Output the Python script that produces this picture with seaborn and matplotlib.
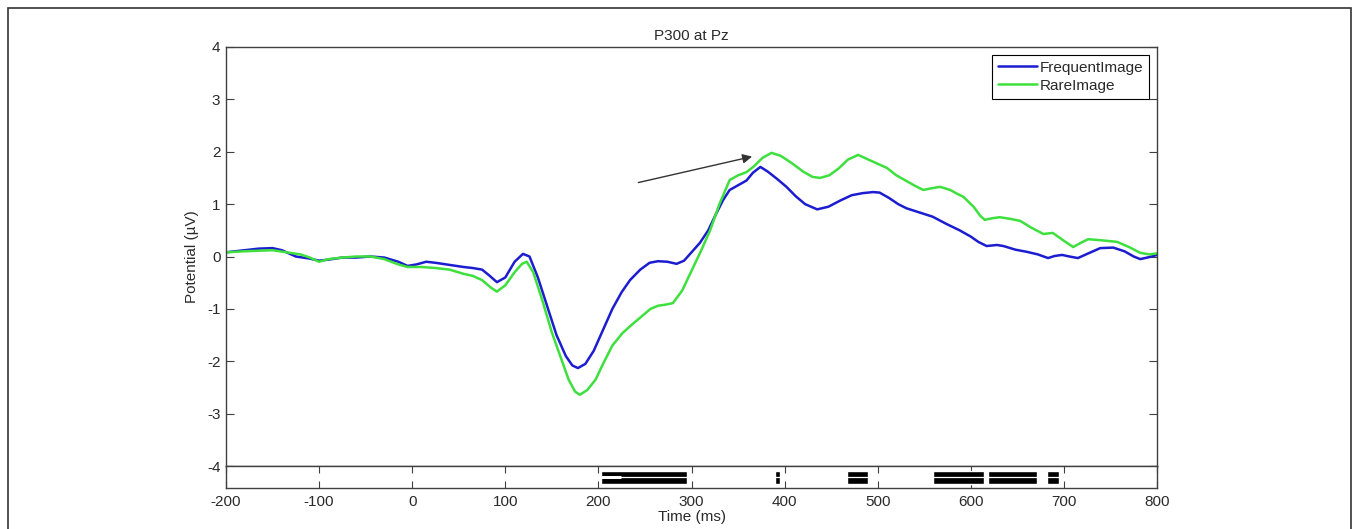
import numpy as np
import pandas as pd
import matplotlib
matplotlib.use("Agg")
import matplotlib.pyplot as plt
import seaborn as sns

################################################
# Data
################################################
freq_time = [-200, -180, -165, -150, -140, -125, -110, -100, -90, -75, -60, -45, -30, -15, -5,
             5, 15, 25, 40, 55, 65, 75, 82, 91, 100, 110, 119, 126, 135, 145, 155, 165, 172,
             178, 186, 195, 205, 215, 225, 234, 245, 255, 264, 274, 284, 292, 300, 309, 318,
             326, 334, 341, 350, 359, 366, 374, 382, 392, 402, 412, 422, 435, 447, 460, 472,
             484, 495, 502, 512, 522, 531, 545, 559, 574, 588, 600, 608, 617, 628, 635, 648,
             660, 672, 683, 690, 698, 706, 715, 725, 739, 753, 765, 775, 782, 792, 800]
freq_uv = [0.08, 0.12, 0.15, 0.16, 0.12, 0.0, -0.04, -0.08, -0.06, -0.02, -0.02, 0.0, -0.02, -0.1, -0.18,
           -0.15, -0.1, -0.12, -0.16, -0.2, -0.22, -0.25, -0.35, -0.49, -0.4, -0.1, 0.05, 0.0, -0.4, -0.95, -1.5, -1.9, -2.08,
           -2.13, -2.05, -1.8, -1.4, -1.0, -0.68, -0.45, -0.25, -0.12, -0.09, -0.1, -0.14, -0.08, 0.08, 0.26, 0.5,
           0.8, 1.08, 1.27, 1.36, 1.45, 1.6, 1.71, 1.62, 1.48, 1.33, 1.15, 1.0, 0.9, 0.95, 1.07, 1.17,
           1.21, 1.23, 1.22, 1.12, 1.0, 0.92, 0.84, 0.76, 0.62, 0.5, 0.38, 0.28, 0.2, 0.22, 0.2, 0.13,
           0.09, 0.04, -0.03, 0.01, 0.03, 0.0, -0.03, 0.05, 0.16, 0.17, 0.1, 0.0, -0.05, -0.01, 0.03]

rare_time = [-200, -180, -165, -150, -135, -120, -110, -100, -90, -75, -60, -45, -30, -15, -5,
             10, 25, 40, 55, 65, 75, 85, 91, 100, 110, 118, 123, 130, 140, 150, 160, 168, 175,
             180, 188, 197, 205, 215, 226, 236, 246, 256, 264, 272, 280, 290, 302, 310, 320,
             330, 341, 350, 359, 367, 376, 386, 396, 408, 420, 430, 438, 448, 458, 468, 479,
             490, 500, 510, 520, 530, 540, 549, 557, 567, 578, 585, 592, 603, 610, 615, 623,
             631, 642, 653, 665, 678, 688, 700, 710, 718, 726, 740, 757, 770, 782, 792, 800]
rare_uv = [0.08, 0.1, 0.11, 0.12, 0.08, 0.04, -0.02, -0.1, -0.05, -0.02, 0.0, 0.0, -0.05, -0.15, -0.2,
           -0.2, -0.22, -0.25, -0.33, -0.37, -0.45, -0.6, -0.67, -0.55, -0.3, -0.14, -0.1, -0.3, -0.85, -1.45, -1.95, -2.35, -2.58,
           -2.64, -2.55, -2.35, -2.05, -1.7, -1.46, -1.3, -1.15, -1.0, -0.94, -0.92, -0.89, -0.65, -0.2, 0.1, 0.5,
           1.0, 1.46, 1.55, 1.61, 1.72, 1.88, 1.98, 1.92, 1.78, 1.62, 1.52, 1.5, 1.55, 1.68, 1.85, 1.94,
           1.85, 1.77, 1.69, 1.55, 1.45, 1.35, 1.27, 1.3, 1.33, 1.27, 1.2, 1.14, 0.95, 0.78, 0.7, 0.73,
           0.75, 0.72, 0.68, 0.55, 0.43, 0.45, 0.3, 0.18, 0.26, 0.33, 0.31, 0.28, 0.18, 0.07, 0.04, 0.06]

conditions = ["FrequentImage", "RareImage"]

# significant time windows (ms)
sig_start = [203, 390, 467, 559, 618, 682]
sig_end = [295, 395, 490, 614, 671, 695]

x_ticks = [-200, -100, 0, 100, 200, 300, 400, 500, 600, 700, 800]
y_ticks = [-4, -3, -2, -1, 0, 1, 2, 3, 4]

################################################
# Style
################################################
sns.set_style("white")
plt.rcParams['font.family'] = ['Liberation Sans', 'DejaVu Sans']
plt.rcParams['font.size'] = 11
TEXT_COLOR = '#2a2a2a'
AXIS_COLOR = '#404040'

df = pd.concat([
    pd.DataFrame({'time': freq_time, 'uv': freq_uv, 'cond': conditions[0]}),
    pd.DataFrame({'time': rare_time, 'uv': rare_uv, 'cond': conditions[1]}),
])

fig = plt.figure(figsize=(13.53, 5.29), dpi=100)
ax = fig.add_axes([226/1353, 1 - 466/529, 931/1353, 419/529])
strip = fig.add_axes([226/1353, 1 - 488/529, 931/1353, 22/529], sharex=ax)

sns.lineplot(data=df, x='time', y='uv', hue='cond', hue_order=conditions,
             palette=['#1c1cd0', '#3de03d'], linewidth=1.8, ax=ax, sort=False)

ax.set_xlim(-200, 800)
ax.set_ylim(-4, 4)
ax.set_yticks(y_ticks)
ax.set_yticklabels([str(v) for v in y_ticks])
ax.tick_params(axis='x', bottom=False, labelbottom=False)
ax.tick_params(axis='y', direction='in', left=True, right=True, length=6,
               width=0.8, color=AXIS_COLOR, labelcolor=TEXT_COLOR, pad=4)
ax.set_xlabel('')
ax.set_ylabel('Potential (µV)', color=TEXT_COLOR, labelpad=6)
ax.set_title('P300 at Pz', color=TEXT_COLOR, pad=5, fontsize=11)
for s in ax.spines.values():
    s.set_color(AXIS_COLOR)
    s.set_linewidth(1)

leg = ax.legend(loc='upper right', frameon=True, fancybox=False, framealpha=1,
                edgecolor='black', handlelength=2.6, handletextpad=0.15,
                borderpad=0.4, labelspacing=0.25, borderaxespad=0.5)
leg.get_frame().set_linewidth(0.8)
for t in leg.get_texts():
    t.set_color(TEXT_COLOR)

ax.annotate('', xy=(368, 1.92), xytext=(240, 1.40),
            arrowprops=dict(arrowstyle='-|>', color='#333333', lw=1,
                            mutation_scale=14))

# significance strip
widths = [e - s for s, e in zip(sig_start, sig_end)]
strip.barh([0.48] * len(sig_start), widths, left=sig_start, height=0.56,
           color='black')
strip.hlines([0.48] * len(sig_start), sig_start, sig_end, color='white', lw=0.9)
strip.hlines(0.48, sig_start[0], sig_start[0] + 21, color='white', lw=2.2)
strip.set_ylim(0, 1)
strip.set_yticks([])
strip.set_xticks(x_ticks)
strip.set_xticklabels([str(v) for v in x_ticks])
strip.tick_params(axis='x', direction='in', top=True, bottom=True, length=5,
                  width=0.8, color=AXIS_COLOR, labelcolor=TEXT_COLOR, pad=5)
strip.set_xlabel('Time (ms)', color=TEXT_COLOR, labelpad=1)
for s in strip.spines.values():
    s.set_color(AXIS_COLOR)
    s.set_linewidth(1)

# outer frame of the picture
fig.add_artist(plt.Rectangle((8/1353, -0.01), 1343/1353, 1 - 8/529 + 0.01,
                             transform=fig.transFigure, fill=False,
                             edgecolor='#333333', lw=1.2))

fig.savefig('out.png', dpi=100)
